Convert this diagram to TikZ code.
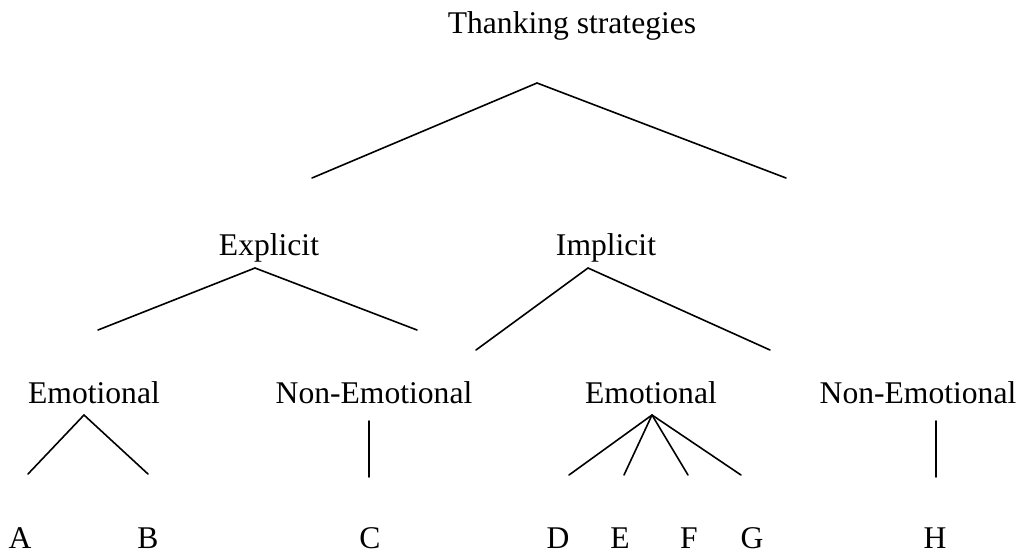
\documentclass[tikz,border=0pt]{standalone}
\usepackage{fontspec}
\setmainfont{Liberation Serif}
\begin{document}
\begin{tikzpicture}[x=1pt,y=-1pt,
  lbl/.style={anchor=base,inner sep=0pt,font=\fontsize{31.6}{38}\selectfont},
  edge/.style={line width=1.6pt,line cap=round,line join=miter}]
\useasboundingbox (0,0) rectangle (1032,555);
% labels
\node[lbl] (root) at (572,33) {Thanking strategies};
\node[lbl] (expl) at (269,255) {Explicit};
\node[lbl] (impl) at (606,255) {Implicit};
\node[lbl] (emoL) at (94,403) {Emotional};
\node[lbl] (nonL) at (374,403) {Non-Emotional};
\node[lbl] (emoR) at (651,403) {Emotional};
\node[lbl] (nonR) at (918,403) {Non-Emotional};
\node[lbl] (A) at (20,548) {A};
\node[lbl] (B) at (148,548) {B};
\node[lbl] (C) at (370,548) {C};
\node[lbl] (D) at (558,548) {D};
\node[lbl] (E) at (620,548) {E};
\node[lbl] (F) at (689,548) {F};
\node[lbl] (G) at (752,548) {G};
\node[lbl] (H) at (935,548) {H};
% connector points
\coordinate (r0) at (537,83);
\coordinate (r1) at (312,178);
\coordinate (r2) at (786,178);
\coordinate (e0) at (255,268);
\coordinate (e1) at (98,330);
\coordinate (e2) at (417,330);
\coordinate (i0) at (588,268);
\coordinate (i1) at (476,350);
\coordinate (i2) at (770,350);
\coordinate (a0) at (84,415);
\coordinate (a1) at (28,474);
\coordinate (a2) at (148,474);
\coordinate (c0) at (369,421);
\coordinate (c1) at (369,477);
\coordinate (d0) at (652,415);
\coordinate (d1) at (569,475);
\coordinate (d2) at (624,475);
\coordinate (d3) at (688,475);
\coordinate (d4) at (741,475);
\coordinate (h0) at (936,421);
\coordinate (h1) at (936,477);
% connectors
\draw[edge] (r1) -- (r0) -- (r2);
\draw[edge] (e1) -- (e0) -- (e2);
\draw[edge] (i1) -- (i0) -- (i2);
\draw[edge] (a1) -- (a0) -- (a2);
\draw[edge] (c0) -- (c1);
\draw[edge] (d0) -- (d1);
\draw[edge] (d0) -- (d2);
\draw[edge] (d0) -- (d3);
\draw[edge] (d0) -- (d4);
\draw[edge] (h0) -- (h1);
\end{tikzpicture}
\end{document}
